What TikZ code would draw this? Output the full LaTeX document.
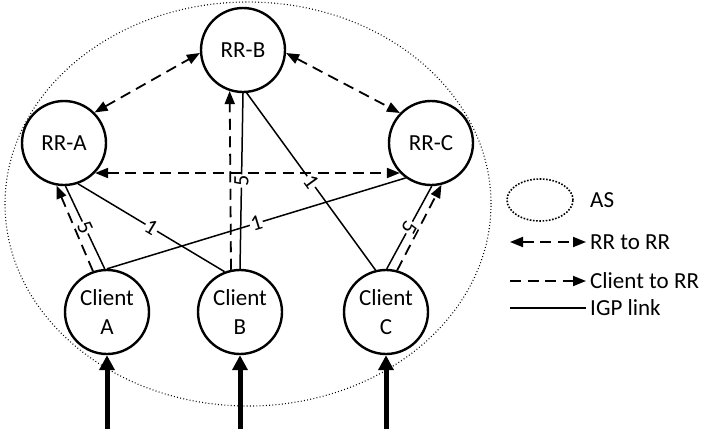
\documentclass[tikz,border=0pt]{standalone}
\usepackage{fontspec}
\setmainfont{Carlito}
\usetikzlibrary{arrows.meta,shapes.geometric}
\begin{document}
\begin{tikzpicture}[x=1pt,y=-1pt,
  txt/.style={font=\fontsize{23}{29}\selectfont},
  router/.style={circle, draw, line width=2.4pt, minimum size=84pt, inner sep=0pt, txt, align=center},
  dashline/.style={line width=1.8pt, dash pattern=on 11pt off 6.5pt},
  rr2rr/.style={dashline, {Triangle[length=13pt,width=10pt]}-{Triangle[length=13pt,width=10pt]}},
  cl2rr/.style={dashline, -{Triangle[length=13pt,width=10pt]}},
  igp/.style={line width=1.5pt},
  cost/.style={fill=white, inner sep=1pt, sloped, font=\fontsize{22}{24}\selectfont},
  feed/.style={line width=5pt, -{Triangle[length=15pt,width=15pt]}},
  asarea/.style={draw, ellipse, line width=1.1pt, dash pattern=on 0.9pt off 2.3pt, inner sep=0pt},
  legas/.style={draw, ellipse, line width=1.6pt, dash pattern=on 1.6pt off 1.6pt, inner sep=0pt},
  legtxt/.style={txt, anchor=west, inner sep=4pt}
]
\useasboundingbox (0,0) rectangle (718,429);
% AS area
\node[asarea, minimum width=486pt, minimum height=404pt] (AS) at (248,204) {};
% routers
\node[router] (RRB) at (243,50) {RR-B};
\node[router] (RRA) at (64,143) {RR-A};
\node[router] (RRC) at (431,143) {RR-C};
\node[router] (CA) at (107,312) {Client\\A};
\node[router] (CB) at (240,312) {Client\\B};
\node[router] (CC) at (386,312) {Client\\C};
% RR to RR
\draw[rr2rr] (RRA.45) -- (RRB.184);
\draw[rr2rr] (RRB.-4) -- (RRC.136);
\draw[rr2rr] (RRA.-44) -- (RRC.224);
% client to RR
\draw[cl2rr] (CA.109) -- (RRA.260);
\draw[cl2rr] (CB.102) -- (RRB.252);
\draw[cl2rr] (CC.75) -- (RRC.-76);
% IGP links
\draw[igp] (RRB.270) -- node[cost]{5} (CB.90);
\draw[igp] (RRB.-85) -- node[cost]{1} (CC.104);
\draw[igp] (RRA.-71) -- node[cost]{1} (CB.111);
\draw[igp] (CA.90) -- node[cost]{1} (RRC.234);
\draw[igp] (RRA.-88) -- node[cost]{5} (CA.93);
\draw[igp] (RRC.-89) -- node[cost, allow upside down]{5} (CC.89);
% incoming feeds
\coordinate (inA) at (107,429);
\coordinate (inB) at (240,429);
\coordinate (inC) at (386,429);
\draw[feed] (inA) -- (CA.south);
\draw[feed] (inB) -- (CB.south);
\draw[feed] (inC) -- (CC.south);
% legend
\node[legas, minimum width=66pt, minimum height=42pt] (lgAS) at (540,200) {};
\node[legtxt] (tAS) at (586,200) {AS};
\node[legtxt] (tRR) at (586,242) {RR to RR};
\node[legtxt] (tCL) at (586,281) {Client to RR};
\node[legtxt] (tIGP) at (586,308) {IGP link};
\coordinate (sRR) at (510,242);
\coordinate (sCL) at (510,281);
\coordinate (sIGP) at (510,308);
\draw[rr2rr] (sRR) -- (tRR.west);
\draw[cl2rr] (sCL) -- (tCL.west);
\draw[igp] (sIGP) -- (tIGP.west);
\end{tikzpicture}
\end{document}
